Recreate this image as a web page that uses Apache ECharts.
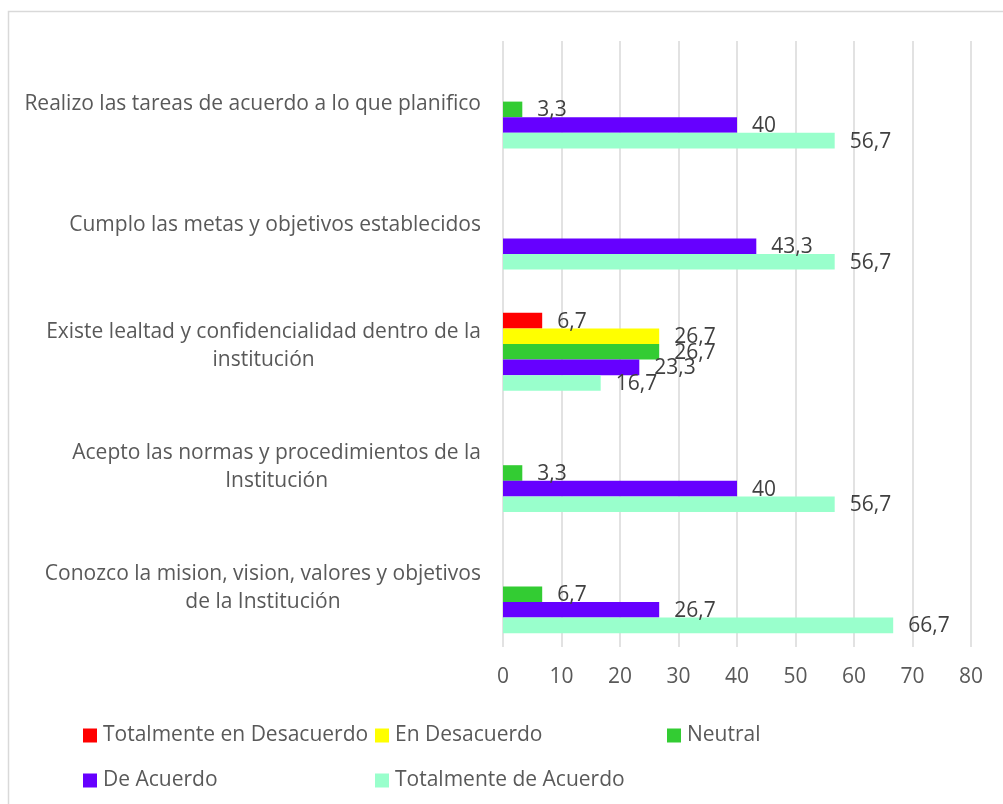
<!DOCTYPE html>
<html>
<head>
<meta charset="utf-8">
<script src="https://cdn.jsdelivr.net/npm/echarts@6/dist/echarts.min.js"></script>
<style>
  html, body { margin: 0; padding: 0; background: #fff; }
  #chart { width: 1003px; height: 804px; }
</style>
</head>
<body>
<div id="chart"></div>
<script>
// Categories, listed bottom to top as the y axis draws them
const categories = [
  'Conozco la mision, vision, valores y objetivos\nde la Institución',
  'Acepto las normas y procedimientos de la\nInstitución',
  'Existe lealtad y confidencialidad dentro de la\ninstitución',
  'Cumplo las metas y objetivos establecidos',
  'Realizo las tareas de acuerdo a lo que planifico'
];

// Percentages per answer (null = no answer of that kind)
const totalmenteDesacuerdo = [null, null, 6.7, null, null];
const enDesacuerdo         = [null, null, 26.7, null, null];
const neutral              = [6.7, 3.3, 26.7, null, 3.3];
const deAcuerdo            = [26.7, 40, 23.3, 43.3, 40];
const totalmenteAcuerdo    = [66.7, 56.7, 16.7, 56.7, 56.7];

const seriesNames = [
  'Totalmente en Desacuerdo',
  'En Desacuerdo',
  'Neutral',
  'De Acuerdo',
  'Totalmente de Acuerdo'
];
const seriesData = [totalmenteDesacuerdo, enDesacuerdo, neutral, deAcuerdo, totalmenteAcuerdo];
const seriesColors = ['#FF0000', '#FFFF00', '#33CC33', '#6600FF', '#99FFCC'];

const xTicks = { min: 0, max: 80, interval: 10 };

const FONT = '"Open Sans", "Noto Sans", sans-serif';
const TEXT_GREY = '#595959';
const FS = 21;

const chart = echarts.init(document.getElementById('chart'), null, { renderer: 'canvas' });

const fmtComma = v => String(v).replace('.', ',');

const barSeries = seriesNames.map((name, i) => ({
  name: name,
  type: 'bar',
  data: seriesData[i],
  barWidth: 15.6,
  barGap: '0%',
  itemStyle: { color: seriesColors[i] },
  label: {
    show: true,
    position: 'right',
    distance: 15,
    offset: [0, 1],
    color: '#404040',
    fontFamily: FONT,
    fontSize: FS,
    formatter: p => fmtComma(p.value)
  }
}));

// empty leading slot keeps the bar group sitting a little below the band centre
const padSeries = {
  name: 'pad',
  type: 'bar',
  data: categories.map(() => null),
  barWidth: 15.6,
  barGap: '0%',
  silent: true
};

const legendBase = {
  orient: 'horizontal',
  padding: 0,
  itemWidth: 14,
  itemHeight: 14,
  itemGap: 0,
  icon: 'rect',
  selectedMode: false,
  textStyle: { color: TEXT_GREY, fontFamily: FONT, fontSize: FS, padding: [0, 0, 0, 1] }
};
const legendPos = [
  [83, 725], [375, 725], [667, 725],
  [83, 770], [375, 770]
];

const option = {
  backgroundColor: '#ffffff',
  animation: false,
  graphic: [{
    type: 'rect',
    shape: { x: 8.5, y: 11.5, width: 1100, height: 900 },
    style: { fill: 'none', stroke: '#d9d9d9', lineWidth: 1.5 },
    silent: true
  }],
  legend: seriesNames.map((n, i) => Object.assign({}, legendBase, {
    left: legendPos[i][0],
    top: legendPos[i][1],
    data: [n]
  })),
  grid: { left: 503, right: 32, top: 41, bottom: 157, containLabel: false },
  xAxis: {
    type: 'value',
    min: xTicks.min,
    max: xTicks.max,
    interval: xTicks.interval,
    axisLine: { show: false },
    axisTick: { show: false },
    splitLine: { show: true, lineStyle: { color: '#d9d9d9', width: 1.5 } },
    axisLabel: { color: TEXT_GREY, fontFamily: FONT, fontSize: FS, margin: 20 }
  },
  yAxis: {
    type: 'category',
    data: categories,
    axisLine: { show: false },
    axisTick: { show: false },
    splitLine: { show: false },
    axisLabel: {
      color: TEXT_GREY,
      fontFamily: FONT,
      fontSize: FS,
      margin: 22,
      align: 'right',
      lineHeight: 28,
      padding: [4, 0, 0, 0],
      formatter: v => v.split('\n').map(s => '{c|' + s + '}').join('\n'),
      rich: { c: { align: 'center', color: TEXT_GREY, fontFamily: FONT, fontSize: FS, lineHeight: 28 } }
    }
  },
  series: [padSeries].concat(barSeries)
};

chart.setOption(option);
</script>
</body>
</html>
